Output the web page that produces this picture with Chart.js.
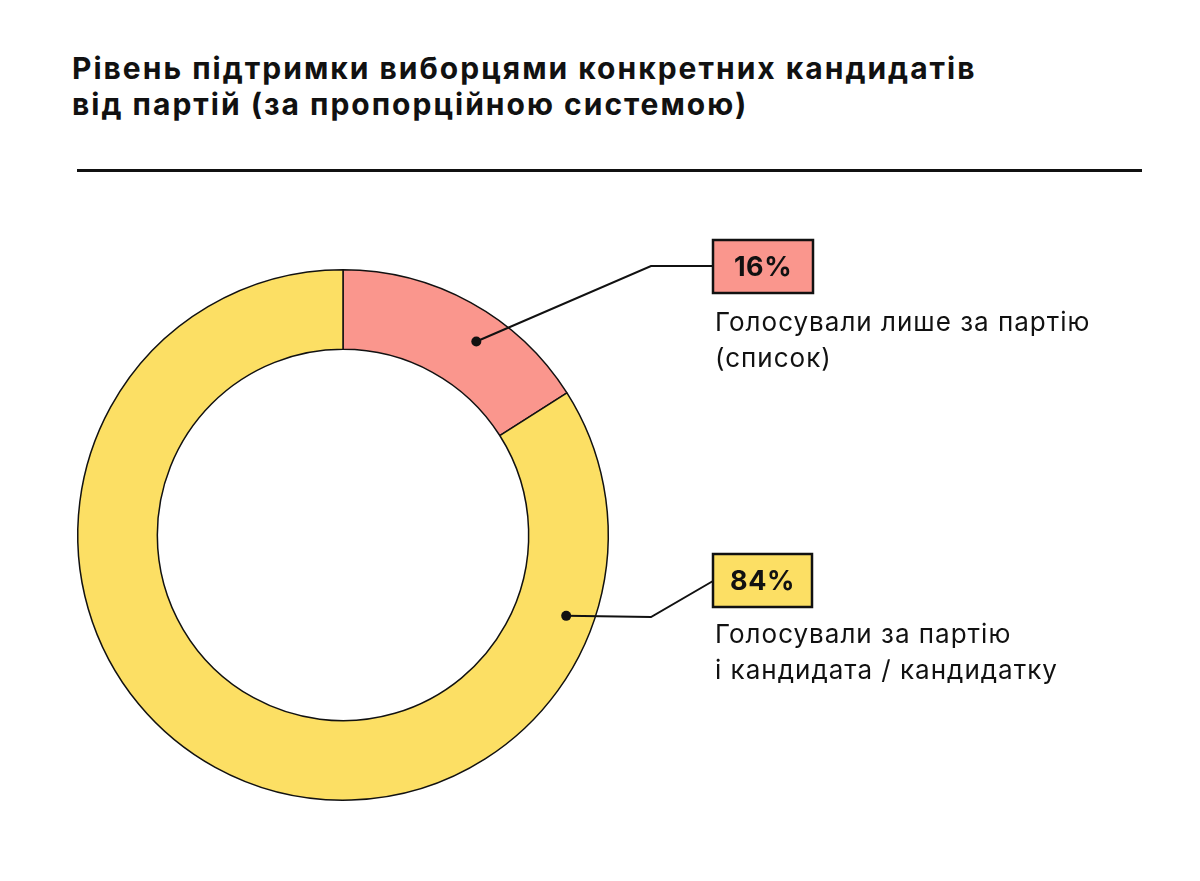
<!DOCTYPE html>
<html lang="uk">
<head>
<meta charset="utf-8">
<script src="https://cdn.jsdelivr.net/npm/chart.js@4.4.1/dist/chart.umd.min.js"></script>
<style>
  html, body { margin: 0; padding: 0; background: #fff; }
  body { width: 1200px; height: 881px; position: relative; overflow: hidden; font-family: Inter, "Noto Sans", sans-serif; color: #111; }
  #title { position: absolute; left: 72px; top: 50px; font-size: 30px; font-weight: 700; line-height: 36px; letter-spacing: 2px; margin: 0; }
  #rule { position: absolute; left: 77px; top: 169px; width: 1065px; height: 3px; background: #111; }
  #wrap { position: absolute; left: 0; top: 0; width: 1200px; height: 881px; }
</style>
</head>
<body>
<h1 id="title">Рівень підтримки виборцями конкретних кандидатів<br>від партій (за пропорційною системою)</h1>
<div id="rule"></div>
<div id="wrap"><canvas id="donut"></canvas></div>
<script>
const categories = ['Голосували лише за партію (список)', 'Голосували за партію і кандидата / кандидатку'];
const shares = [16, 84];
const valueLabels = ['16%', '84%'];
const labelLines = [['Голосували лише за партію', '(список)'], ['Голосували за партію', 'і кандидата / кандидатку']];
const colors = ['#FA968D', '#FCDF64'];

// where each callout sits: dot position along the arc, elbow and box
const callouts = [
    { along: 0.6, depth: 0.62, elbow: [651, 266], end: [713, 266], box: [713, 240, 100, 53], text: [715, 331] },
    { along: 0.173, depth: 0.65, elbow: [651, 617], end: [713, 581], box: [713, 554, 99, 53], text: [715, 643] }
];

const calloutPlugin = {
    id: 'callouts',
    afterDatasetsDraw(chart) {
        const ctx = chart.ctx;
        const arcs = chart.getDatasetMeta(0).data;
        arcs.forEach((arc, i) => {
            const c = callouts[i];
            const p = arc.getProps(['x', 'y', 'startAngle', 'endAngle', 'innerRadius', 'outerRadius']);
            const a = p.startAngle + c.along * (p.endAngle - p.startAngle);
            const r = p.innerRadius + c.depth * (p.outerRadius - p.innerRadius);
            const dx = p.x + r * Math.cos(a);
            const dy = p.y + r * Math.sin(a);

            ctx.save();
            ctx.strokeStyle = '#111';
            ctx.lineWidth = 2;
            ctx.beginPath();
            ctx.moveTo(dx, dy);
            ctx.lineTo(c.elbow[0], c.elbow[1]);
            ctx.lineTo(c.end[0], c.end[1]);
            ctx.stroke();

            ctx.fillStyle = '#111';
            ctx.beginPath();
            ctx.arc(dx, dy, 5, 0, Math.PI * 2);
            ctx.fill();

            const [bx, by, bw, bh] = c.box;
            ctx.fillStyle = colors[i];
            ctx.fillRect(bx, by, bw, bh);
            ctx.lineWidth = 2.5;
            ctx.strokeRect(bx, by, bw, bh);

            ctx.fillStyle = '#111';
            ctx.font = '700 27px Inter, "Noto Sans", sans-serif';
            ctx.letterSpacing = '0.5px';
            ctx.textAlign = 'center';
            ctx.textBaseline = 'middle';
            ctx.fillText(valueLabels[i], bx + bw / 2, by + bh / 2 + 1);

            ctx.font = '400 26px Inter, "Noto Sans", sans-serif';
            ctx.letterSpacing = '1px';
            ctx.textAlign = 'left';
            ctx.textBaseline = 'alphabetic';
            labelLines[i].forEach((line, j) => {
                ctx.fillText(line, c.text[0], c.text[1] + j * 36);
            });
            ctx.restore();
        });
    }
};

const ctx = document.getElementById('donut').getContext('2d');
new Chart(ctx, {
    type: 'doughnut',
    data: {
        labels: categories,
        datasets: [{
            data: shares,
            backgroundColor: colors,
            borderColor: '#111',
            borderWidth: 1.5,
            borderAlign: 'center'
        }]
    },
    options: {
        responsive: true,
        maintainAspectRatio: false,
        animation: false,
        cutout: '70%',
        layout: { padding: { left: 77, right: 591, top: 269, bottom: 80 } },
        plugins: {
            legend: { display: false },
            tooltip: { enabled: false }
        }
    },
    plugins: [calloutPlugin]
});
</script>
</body>
</html>
